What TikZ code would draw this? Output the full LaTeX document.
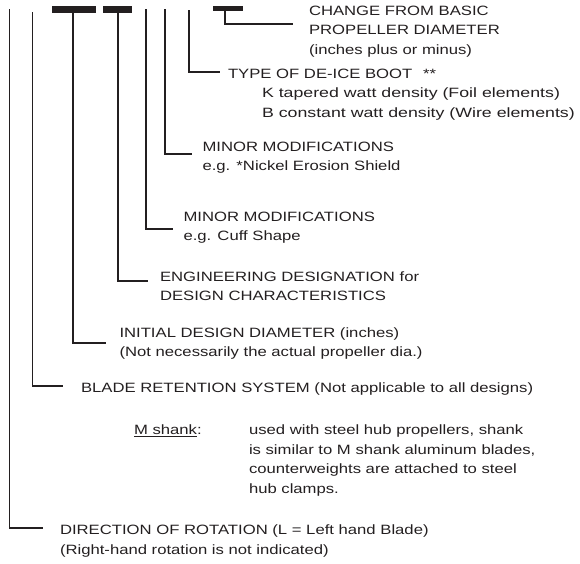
\documentclass[tikz,border=0pt]{standalone}
\usepackage{fontspec}
\newfontfamily\labfont{Liberation Sans}[FakeStretch=1.235]
\newfontfamily\widefont{Liberation Sans}[FakeStretch=1.315]
\definecolor{ink}{RGB}{35,31,32}
\begin{document}
\begin{tikzpicture}[x=1pt,y=-1pt,
  lead/.style={draw=ink,line width=1.8pt,line join=miter,line cap=butt},
  barbox/.style={fill=ink,draw=none},
  lbl/.style={anchor=base west,inner sep=0pt,outer sep=0pt,text=ink,
    font=\labfont\fontsize{13.5pt}{19.5pt}\selectfont},
  widelbl/.style={lbl,font=\widefont\fontsize{13.5pt}{19.5pt}\selectfont}]
\path[use as bounding box] (0,0) rectangle (580,563);

% bars
\fill[barbox] (52,6) rectangle (96,12.5);
\fill[barbox] (103,6) rectangle (132,12.5);
\fill[barbox] (213,6) rectangle (243,11);

% leader tops and ends
\coordinate (t1) at (9.5,9);    \coordinate (e1) at (43,528);
\coordinate (t2) at (32.5,12);  \coordinate (e2) at (63,386);
\coordinate (t3) at (73,12);    \coordinate (e3) at (106,343);
\coordinate (t4) at (118,12);   \coordinate (e4) at (148,281);
\coordinate (t5) at (146,9);    \coordinate (e5) at (173,229);
\coordinate (t6) at (165,9);    \coordinate (e6) at (192,154);
\coordinate (t7) at (189,10);   \coordinate (e7) at (220,72);
\coordinate (t8) at (225,10.5); \coordinate (e8) at (293,24);

\draw[lead] (t1) |- (e1);
\draw[lead] (t2) |- (e2);
\draw[lead] (t3) |- (e3);
\draw[lead] (t4) |- (e4);
\draw[lead] (t5) |- (e5);
\draw[lead] (t6) |- (e6);
\draw[lead] (t7) |- (e7);
\draw[lead] (t8) |- (e8);

% labels
\node[lbl] (c1) at (309,15) {CHANGE FROM BASIC};
\node[lbl] (c2) at (309,34.5) {PROPELLER DIAMETER};
\node[lbl] (c3) at (309,54) {(inches plus or minus)};

\node[lbl] (b1) at (228,78) {TYPE OF DE-ICE BOOT\hspace{0.8em}**};
\node[widelbl] (b2) at (262,97.5) {K tapered watt density (Foil elements)};
\node[widelbl] (b3) at (262,117) {B constant watt density (Wire elements)};

\node[lbl] (n1) at (202.5,151) {MINOR MODIFICATIONS};
\node[lbl] (n2) at (202.5,170.5) {e.g. *Nickel Erosion Shield};

\node[lbl] (m1) at (183.5,221) {MINOR MODIFICATIONS};
\node[lbl] (m2) at (183.5,240.5) {e.g. Cuff Shape};

\node[lbl] (g1) at (160,281) {ENGINEERING DESIGNATION for};
\node[lbl] (g2) at (160,300.5) {DESIGN CHARACTERISTICS};

\node[lbl] (i1) at (119.5,337) {INITIAL DESIGN DIAMETER (inches)};
\node[lbl] (i2) at (119.5,356.5) {(Not necessarily the actual propeller dia.)};

\node[lbl] (r1) at (81,392) {BLADE RETENTION SYSTEM (Not applicable to all designs)};

\node[lbl] (s0) at (134,434.5) {\underline{M shank}:};
\node[lbl] (s1) at (249,434.5) {used with steel hub propellers, shank};
\node[lbl] (s2) at (249,454) {is similar to M shank aluminum blades,};
\node[lbl] (s3) at (249,473.5) {counterweights are attached to steel};
\node[lbl] (s4) at (249,493) {hub clamps.};

\node[lbl] (d1) at (60,534.5) {DIRECTION OF ROTATION (L = Left hand Blade)};
\node[lbl] (d2) at (60,554) {(Right-hand rotation is not indicated)};
\end{tikzpicture}
\end{document}
